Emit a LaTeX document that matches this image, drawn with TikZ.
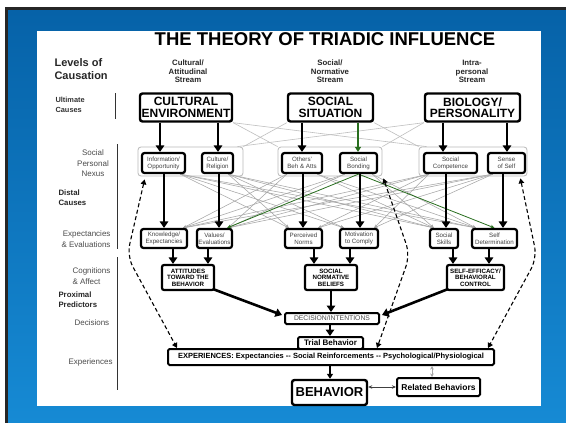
\documentclass[tikz,border=0pt]{standalone}
\usepackage{fontspec}
\setmainfont{Liberation Sans}
\usetikzlibrary{arrows.meta,calc}
\pgfdeclarelayer{bg}
\pgfdeclarelayer{lines}
\pgfsetlayers{bg,lines,main}
\definecolor{blueTop}{RGB}{6,98,168}
\definecolor{blueBot}{RGB}{22,138,212}
\definecolor{dgreen}{RGB}{40,110,30}
\newcommand\fsz[2]{\fontsize{#1}{#2}\selectfont}
\begin{document}
\begin{tikzpicture}[x=1pt,y=-1pt,
  big/.style={draw, fill=white, line width=2.4pt, rounded corners=2.5pt, font=\bfseries\fsz{12}{11.5}, align=center, inner sep=0pt},
  inbox/.style={draw, fill=white, line width=2.2pt, rounded corners=2.5pt, font=\fsz{6.2}{7.2}, text=black!75, align=center, inner sep=0pt},
  predbox/.style={draw, fill=white, line width=2.2pt, rounded corners=2pt, font=\bfseries\fsz{6.2}{6.6}, align=center, inner sep=0pt},
  lowbox/.style={draw, fill=white, line width=2pt, rounded corners=1.5pt, align=center, inner sep=0pt},
  grp/.style={draw=gray!55, line width=0.8pt, rounded corners=3pt, inner sep=0pt},
  lab/.style={font=\fsz{8}{10.5}, text=black!70},
  labb/.style={font=\bfseries\fsz{7.8}{10}, text=black!85},
  streamlab/.style={align=center, font=\bfseries\fsz{7.8}{8.5}, text=black!85},
  thickarrow/.style={line width=2.6pt, -{Triangle[width=8.5pt,length=6.5pt]}},
  medarrow/.style={line width=1.6pt, -{Triangle[width=6pt,length=5pt]}},
  grayarrow/.style={draw=gray!70, line width=0.55pt, -{Stealth[length=3.5pt,width=3pt]}},
  greenarrow/.style={draw=dgreen, line width=0.8pt, -{Stealth[length=4pt,width=3.5pt]}},
  grayline/.style={draw=gray!50, line width=0.6pt},
  dasharrow/.style={line width=1.1pt, dash pattern=on 4pt off 2.6pt, {Triangle[width=5.5pt,length=5pt]}-{Triangle[width=5.5pt,length=5pt]}, rounded corners=12pt},
  vline/.style={line width=0.9pt, black!80}
]
\useasboundingbox (0,0) rectangle (566,423);
\begin{pgfonlayer}{bg}
\fill[white] (0,0) rectangle (566,423);
\fill[black!85] (5,7) rectangle (566,423);
\shade[top color=blueTop, bottom color=blueBot] (8,10) rectangle (566,423);
\fill[white] (37,31) rectangle (541,406);
\end{pgfonlayer}

% title and stream labels
\node[font=\bfseries\fsz{18.5}{20}] (title) at (325,39.5) {THE THEORY OF TRIADIC INFLUENCE};
\node[anchor=west, align=left, font=\bfseries\fsz{11}{13}, text=black!85] (levels) at (51,69.5) {Levels of\\Causation};
\node[streamlab] (st1) at (188,71.5) {Cultural/\\Attitudinal\\Stream};
\node[streamlab] (st2) at (330,71.5) {Social/\\Normative\\Stream};
\node[streamlab] (st3) at (472,71.5) {Intra-\\personal\\Stream};

% left labels
\node[anchor=west, align=left, font=\bfseries\fsz{7.4}{10}, text=black!80] (ult) at (52,105) {Ultimate\\Causes};
\node[lab, align=center] (nexus) at (93,163.5) {Social\\Personal\\Nexus};
\node[labb, anchor=west, align=left] (distal) at (55,198) {Distal\\Causes};
\node[lab, anchor=east, align=right] (expev) at (114,239) {Expectancies\\\& Evaluations};
\node[lab, anchor=west, align=left] (cogn) at (69,276) {Cognitions\\\& Affect};
\node[labb, anchor=west, align=left] (prox) at (55,300) {Proximal\\Predictors};
\node[lab, anchor=west] (decis) at (71,323) {Decisions};
\node[lab, anchor=west] (exper) at (65,362) {Experiences};
\draw[vline] (115.5,93) -- (115.5,119);
\draw[vline] (117,144) -- (117,249);
\draw[vline] (117,257) -- (117,390);

% ultimate causes
\node[big, minimum width=92pt, minimum height=28pt] (CE) at (186,107.5) {CULTURAL\\ENVIRONMENT};
\node[big, minimum width=85pt, minimum height=28pt] (SS) at (330.5,107.5) {SOCIAL\\SITUATION};
\node[big, minimum width=95pt, minimum height=28pt] (BP) at (472.5,107.5) {BIOLOGY/\\PERSONALITY};

% groups
\node[grp, minimum width=105pt, minimum height=29pt] (G1) at (190.5,161.5) {};
\node[grp, minimum width=104pt, minimum height=29pt] (G2) at (330,161.5) {};
\node[grp, minimum width=108pt, minimum height=29pt] (G3) at (473,161.5) {};

% social personal nexus
\node[inbox, minimum width=43pt, minimum height=20pt] (Info) at (163.5,163) {Information/\\Opportunity};
\node[inbox, minimum width=31pt, minimum height=20pt] (Culture) at (217.5,163) {Culture/\\Religion};
\node[inbox, minimum width=40pt, minimum height=20pt] (Others) at (302,163) {Others'\\Beh \& Atts};
\node[inbox, minimum width=37pt, minimum height=20pt] (Bond) at (358.5,163) {Social\\Bonding};
\node[inbox, minimum width=53pt, minimum height=20pt] (Comp) at (450.5,163) {Social\\Competence};
\node[inbox, minimum width=37pt, minimum height=20pt] (Self) at (506.5,163) {Sense\\of Self};

% expectancies & evaluations
\node[inbox, minimum width=46pt, minimum height=19pt] (Know) at (164,238.5) {Knowledge/\\Expectancies};
\node[inbox, minimum width=35pt, minimum height=19pt] (Values) at (214.5,238.5) {Values/\\Evaluations};
\node[inbox, minimum width=37pt, minimum height=19pt] (Perc) at (303.5,238.5) {Perceived\\Norms};
\node[inbox, minimum width=38pt, minimum height=19pt] (Motiv) at (359,238.5) {Motivation\\to Comply};
\node[inbox, minimum width=28pt, minimum height=19pt] (Skills) at (444,238.5) {Social\\Skills};
\node[inbox, minimum width=45pt, minimum height=19pt] (SelfDet) at (494.5,238.5) {Self\\Determination};

% proximal predictors
\node[predbox, minimum width=52pt, minimum height=25pt] (ATT) at (188,277.5) {ATTITUDES\\TOWARD THE\\BEHAVIOR};
\node[predbox, minimum width=52pt, minimum height=25pt] (SNB) at (331,277.5) {SOCIAL\\NORMATIVE\\BELIEFS};
\node[predbox, minimum width=57pt, minimum height=25pt] (SE) at (475.5,277.5) {SELF-EFFICACY/\\BEHAVIORAL\\CONTROL};

% decisions, experiences, behavior
\node[lowbox, minimum width=94pt, minimum height=11pt, font=\fsz{6.8}{7}, text=black!70] (DEC) at (332,318.5) {DECISION/INTENTIONS};
\node[lowbox, minimum width=65pt, minimum height=12pt, font=\bfseries\fsz{8}{8}] (Trial) at (330.5,343) {Trial Behavior};
\node[lowbox, minimum width=326pt, minimum height=16pt, font=\bfseries\fsz{7.5}{8}] (EXP) at (331,357) {EXPERIENCES: Expectancies -{}- Social Reinforcements -{}- Psychological/Physiological};
\node[lowbox, line width=2.4pt, rounded corners=2.5pt, minimum width=75pt, minimum height=25pt, font=\bfseries\fsz{13}{13}] (BEH) at (329.5,392.5) {BEHAVIOR};
\node[lowbox, minimum width=83pt, minimum height=18pt, font=\bfseries\fsz{8.5}{9}] (Rel) at (438.5,387) {Related Behaviors};

% gray crossing lines (behind boxes)
\begin{pgfonlayer}{lines}
\draw[grayline] (CE.south east) -- (G2.north west);
\draw[grayline] (CE.south east) -- ([xshift=8pt]G3.north west);
\draw[grayline] (SS.south west) -- (G1.north east);
\draw[grayline] (SS.south east) -- (G3.north west);
\draw[grayline] (BP.south west) -- ([xshift=-6pt]G1.north east);
\draw[grayline] (BP.south west) -- (G2.north east);
\foreach \s in {Info,Culture}
  \foreach \t in {Perc,Motiv,Skills,SelfDet}
    \draw[grayarrow] ([xshift=-6pt]\s.south east) -- ([xshift=5pt]\t.north west);
\foreach \s in {Others,Bond}
  \foreach \t in {Skills,SelfDet}
    \draw[grayarrow] ([xshift=-6pt]\s.south east) -- ([xshift=5pt]\t.north west);
\foreach \s in {Others,Bond}
  \foreach \t in {Know,Values}
    \draw[grayarrow] ([xshift=6pt]\s.south west) -- ([xshift=-5pt]\t.north east);
\foreach \s in {Comp,Self}
  \foreach \t in {Know,Values,Perc,Motiv}
    \draw[grayarrow] ([xshift=6pt]\s.south west) -- ([xshift=-5pt]\t.north east);
\end{pgfonlayer}
\draw[greenarrow] (Bond.south) -- ([xshift=-6pt]Values.north east);
\draw[greenarrow] (Bond.south) -- (SelfDet.north);

% thick arrows ultimate -> nexus
\draw[thickarrow] (CE.south -| 160,0) -- (Info.north -| 160,0);
\draw[thickarrow] (CE.south -| 218,0) -- (Culture.north -| 218,0);
\draw[thickarrow] (SS.south -| 302,0) -- (Others.north -| 302,0);
\draw[medarrow, draw=dgreen, fill=dgreen] (SS.south -| 358,0) -- (Bond.north -| 358,0);
\draw[thickarrow] (BP.south -| 443,0) -- (Comp.north -| 443,0);
\draw[thickarrow] (BP.south -| 507,0) -- (Self.north -| 507,0);

% nexus -> expectancies
\draw[thickarrow] (Info.south -| 164,0) -- (Know.north -| 164,0);
\draw[thickarrow] (Culture.south -| 219,0) -- (Values.north -| 219,0);
\draw[thickarrow] (Others.south -| 303,0) -- (Perc.north -| 303,0);
\draw[thickarrow] (Bond.south -| 360,0) -- (Motiv.north -| 360,0);
\draw[thickarrow] (Comp.south -| 446,0) -- (Skills.north -| 446,0);
\draw[thickarrow] (Self.south -| 503,0) -- (SelfDet.north -| 503,0);

% expectancies -> predictors
\draw[thickarrow] (Know.south -| 173,0) -- (ATT.north -| 173,0);
\draw[thickarrow] (Values.south -| 208,0) -- (ATT.north -| 208,0);
\draw[thickarrow] (Perc.south -| 314,0) -- (SNB.north -| 314,0);
\draw[thickarrow] (Motiv.south -| 350,0) -- (SNB.north -| 350,0);
\draw[thickarrow] (Skills.south -| 453,0) -- (SE.north -| 453,0);
\draw[thickarrow] (SelfDet.south -| 489,0) -- (SE.north -| 489,0);

% predictors -> decision
\draw[thickarrow] ([xshift=-2pt,yshift=2pt]ATT.south east) -- ([xshift=-2pt,yshift=-3pt]DEC.north west);
\draw[thickarrow] (SNB.south -| 331,0) -- (DEC.north -| 331,0);
\draw[thickarrow] ([xshift=2pt,yshift=2pt]SE.south west) -- ([xshift=2pt,yshift=-3pt]DEC.north east);
\draw[thickarrow] (DEC.south -| 330,0) -- (Trial.north -| 330,0);
\draw[medarrow] (EXP.south -| 330,0) -- (BEH.north -| 330,0);
\draw[draw=gray!70, line width=0.8pt, {Stealth[length=3.5pt,width=3.5pt]}-{Stealth[length=3.5pt,width=3.5pt]}] (EXP.south -| 432,0) -- (Rel.north -| 432,0);
\draw[line width=0.9pt, black!75, {Stealth[length=4pt,width=3.5pt]}-{Stealth[length=4pt,width=3.5pt]}] (BEH.east |- Rel.west) -- (Rel.west);

% dashed feedback arrows
\coordinate (dL) at (127,256);
\coordinate (dM) at (410,255);
\coordinate (dR) at (537,258);
\draw[dasharrow] ([xshift=7pt,yshift=-3pt]G1.south west) -- (dL) -- (EXP.north -| 177,0);
\draw[dasharrow] ([xshift=1pt,yshift=-2pt]G2.south east) -- (dM) -- (EXP.north -| 377,0);
\draw[dasharrow] ([xshift=-7pt,yshift=-2pt]G3.south east) -- (dR) -- (EXP.north -| 488,0);
\end{tikzpicture}
\end{document}
